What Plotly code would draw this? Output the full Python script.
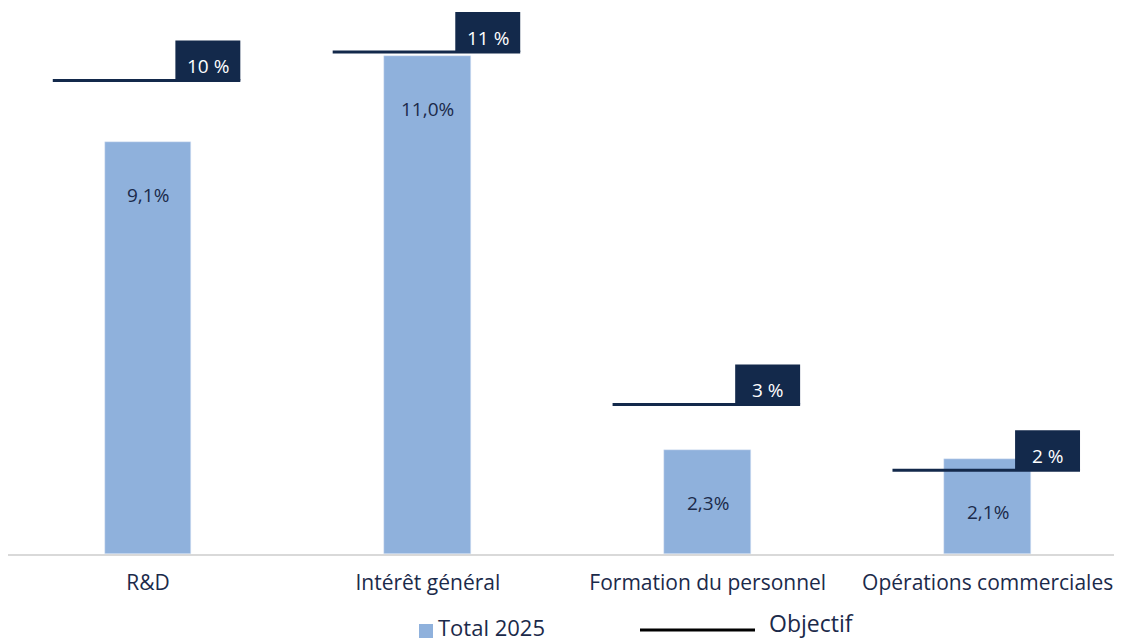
import plotly.graph_objects as go

categories = ["R&D", "Intérêt général", "Formation du personnel", "Opérations commerciales"]
total_2025 = [9.1, 11.0, 2.3, 2.1]
total_labels = ["9,1%", "11,0%", "2,3%", "2,1%"]
objectif = [10.45, 11.08, 3.3, 1.85]
objectif_labels = ["10 %", "11 %", "3 %", "2 %"]

BAR = "#8fb1dc"
NAVY = "#13294b"
TXT = "#1b2a4a"
FONT = "Open Sans"

W, H = 1114, 633
PLOT_H = 546


def px(xr):
    return (xr - 8) / W


def py(yr):
    return -(yr - 554) / PLOT_H


x = list(range(len(categories)))
fig = go.Figure()
fig.add_trace(go.Bar(x=x, y=total_2025, width=0.31, marker_color=BAR, showlegend=False,
                     hoverinfo="skip"))

# objective lines
lx, ly = [], []
for i, v in zip(x, objectif):
    lx += [i - 0.34, i + 0.33, None]
    ly += [v, v, None]
fig.add_trace(go.Scatter(x=lx, y=ly, mode="lines", line=dict(color=NAVY, width=3),
                         showlegend=False, hoverinfo="skip"))

BOX_H = 0.88
BOX_W = 0.232
for i, v, lab in zip(x, objectif, objectif_labels):
    fig.add_shape(type="rect", xref="x", yref="y", x0=i + 0.33 - BOX_W, x1=i + 0.33,
                  y0=v, y1=v + BOX_H, fillcolor=NAVY, line=dict(width=0), layer="above")
    fig.add_annotation(x=i + 0.33 - BOX_W / 2, y=v + BOX_H * 0.36, text=lab, showarrow=False,
                       font=dict(family=FONT, size=19, color="white"),
                       xref="x", yref="y")

for i, v, lab in zip(x, total_2025, total_labels):
    fig.add_annotation(x=i, y=v, yshift=-53, text=lab, showarrow=False,
                       font=dict(family=FONT, size=19, color=TXT), xref="x", yref="y")

# manual legend
fig.add_shape(type="rect", xref="paper", yref="paper", x0=px(419), x1=px(433),
              y0=py(638), y1=py(624), fillcolor=BAR, line=dict(width=0))
fig.add_annotation(xref="paper", yref="paper", x=px(436), y=py(627),
                   xanchor="left", yanchor="middle", text="Total 2025", showarrow=False,
                   font=dict(family=FONT, size=22, color=TXT))
fig.add_shape(type="line", xref="paper", yref="paper", x0=px(640), x1=px(755),
              y0=py(630), y1=py(630), line=dict(color="black", width=3))
fig.add_annotation(xref="paper", yref="paper", x=px(767), y=py(623),
                   xanchor="left", yanchor="middle", text="Objectif", showarrow=False,
                   font=dict(family=FONT, size=23, color=TXT))

fig.update_layout(
    width=W, height=H,
    margin=dict(l=0, r=0, t=0, b=H - PLOT_H),
    paper_bgcolor="white", plot_bgcolor="white",
    bargap=0,
    font=dict(family=FONT, color=TXT),
    xaxis=dict(range=[-0.5, 3.48], tickvals=x, ticktext=categories, showgrid=False,
               showline=True, linecolor="#d9d9d9", linewidth=2, ticks="", zeroline=False,
               tickfont=dict(family=FONT, size=21, color=TXT), ticklabelstandoff=9),
    yaxis=dict(range=[0, 12.05], visible=False, showgrid=False, zeroline=False),
)
fig.write_html("out.html")
